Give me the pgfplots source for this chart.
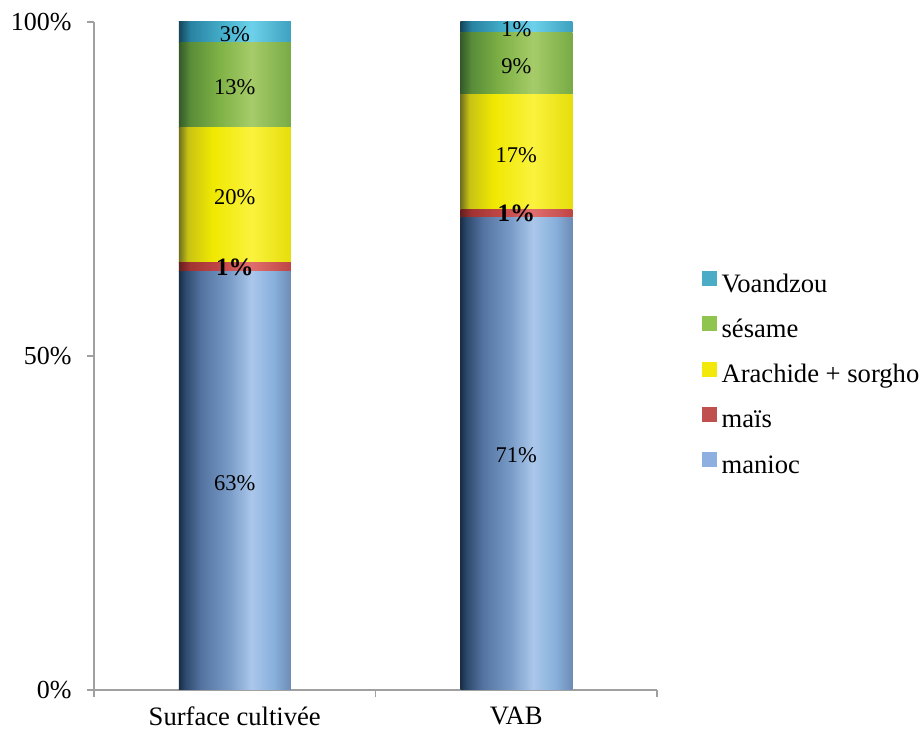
\documentclass[border=0pt]{standalone}
\usepackage{fontspec}
\setmainfont{Liberation Serif}
\usepackage{pgfplots}
\pgfplotsset{compat=1.18}
\newcommand{\fs}{\fontsize{25}{30}\selectfont}
\newcommand{\fy}{\fontsize{26}{31}\selectfont}
\newcommand{\fg}{\fontsize{26.6}{32}\selectfont}
\newcommand{\fl}{\fontsize{22.5}{27}\selectfont}
\definecolor{cVo}{RGB}{75,172,198}
\definecolor{cSe}{RGB}{143,197,78}
\definecolor{cAr}{RGB}{242,233,10}
\definecolor{cMa}{RGB}{192,80,77}
\definecolor{cMn}{RGB}{142,176,224}
\definecolor{axgray}{RGB}{160,160,160}
\pgfdeclarehorizontalshading{shMn}{100bp}{rgb(0bp)=(0.10,0.18,0.27); rgb(25bp)=(0.10,0.18,0.27); rgb(28bp)=(0.18,0.29,0.43); rgb(35bp)=(0.33,0.45,0.63); rgb(47.5bp)=(0.47,0.61,0.78); rgb(57.5bp)=(0.67,0.78,0.92); rgb(67.5bp)=(0.53,0.69,0.86); rgb(75bp)=(0.43,0.55,0.71); rgb(100bp)=(0.43,0.55,0.71)}
\pgfdeclarehorizontalshading{shMa}{100bp}{rgb(0bp)=(0.39,0.12,0.12); rgb(25bp)=(0.39,0.12,0.12); rgb(30bp)=(0.63,0.20,0.20); rgb(45bp)=(0.78,0.29,0.29); rgb(57.5bp)=(0.88,0.43,0.43); rgb(75bp)=(0.75,0.27,0.27); rgb(100bp)=(0.75,0.27,0.27)}
\pgfdeclarehorizontalshading{shAr}{100bp}{rgb(0bp)=(0.43,0.43,0.12); rgb(25bp)=(0.43,0.43,0.12); rgb(29bp)=(0.78,0.76,0.08); rgb(40bp)=(0.94,0.91,0.0); rgb(57.5bp)=(0.98,0.95,0.24); rgb(75bp)=(0.90,0.87,0.04); rgb(100bp)=(0.90,0.87,0.04)}
\pgfdeclarehorizontalshading{shSe}{100bp}{rgb(0bp)=(0.20,0.35,0.16); rgb(25bp)=(0.20,0.35,0.16); rgb(30bp)=(0.35,0.55,0.22); rgb(42.5bp)=(0.49,0.69,0.27); rgb(57.5bp)=(0.65,0.80,0.41); rgb(75bp)=(0.47,0.67,0.27); rgb(100bp)=(0.47,0.67,0.27)}
\pgfdeclarehorizontalshading{shVo}{100bp}{rgb(0bp)=(0.08,0.27,0.35); rgb(25bp)=(0.08,0.27,0.35); rgb(30bp)=(0.16,0.51,0.63); rgb(45bp)=(0.27,0.69,0.80); rgb(57.5bp)=(0.43,0.82,0.92); rgb(75bp)=(0.24,0.63,0.75); rgb(100bp)=(0.24,0.63,0.75)}
\pgfplotsset{
  common/.style={at={(94pt,43pt)}, anchor=south west,
    scale only axis, width=563pt, height=668pt,
    xmin=-0.5, xmax=1.5, ymin=0, ymax=100},
  barax/.style={common, ybar stacked, bar width=112pt},
}
\begin{document}
\begin{tikzpicture}[font=\fs]
\path[use as bounding box] (0,0) rectangle (921pt,733pt);
% bars of "Surface cultivée" + axes
\begin{axis}[
  barax,
  axis x line*=bottom, axis y line*=left,
  axis line style={draw=axgray, line width=1.6pt},
  tick style={draw=axgray, line width=1.6pt},
  tick align=outside, major tick length=7pt, minor tick length=7pt,
  xtick={0,1}, xticklabels={Surface cultivée, VAB},
  minor xtick={-0.5,0.5,1.5},
  major x tick style={draw=none},
  ytick={0,50,100}, yticklabels={0\%,50\%,100\%},
  yticklabel style={font=\fy, xshift=-12pt},
  xticklabel style={font=\fg, yshift=-6pt},
]
\addplot[draw=none, shade, shading=shMn] coordinates {(0,62.7)};
\addplot[draw=none, shade, shading=shMa] coordinates {(0,1.3)};
\addplot[draw=none, shade, shading=shAr] coordinates {(0,20.2)};
\addplot[draw=none, shade, shading=shSe] coordinates {(0,12.7)};
\addplot[draw=none, shade, shading=shVo] coordinates {(0,3.1)};
\end{axis}
% bars of "VAB"
\begin{axis}[barax, hide axis]
\addplot[draw=none, shade, shading=shMn] coordinates {(1,70.8)};
\addplot[draw=none, shade, shading=shMa] coordinates {(1,1.2)};
\addplot[draw=none, shade, shading=shAr] coordinates {(1,17.1)};
\addplot[draw=none, shade, shading=shSe] coordinates {(1,9.4)};
\addplot[draw=none, shade, shading=shVo] coordinates {(1,1.5)};
\end{axis}
% value labels and legend
\begin{axis}[common, hide axis,
  legend style={draw=none, fill=none, at={(1.0746,0.6303)}, anchor=north west,
    nodes={inner sep=0pt, text height=17pt, text depth=5pt, font=\fg},
    row sep=19pt, column sep=5pt},
  legend cell align=left,
]
\addlegendimage{legend image code/.code={\fill[cVo] (0pt,1pt) rectangle (14pt,15pt);}}
\addlegendentry{Voandzou}
\addlegendimage{legend image code/.code={\fill[cSe] (0pt,1pt) rectangle (14pt,15pt);}}
\addlegendentry{sésame}
\addlegendimage{legend image code/.code={\fill[cAr] (0pt,1pt) rectangle (14pt,15pt);}}
\addlegendentry{Arachide + sorgho}
\addlegendimage{legend image code/.code={\fill[cMa] (0pt,1pt) rectangle (14pt,15pt);}}
\addlegendentry{maïs}
\addlegendimage{legend image code/.code={\fill[cMn] (0pt,1pt) rectangle (14pt,15pt);}}
\addlegendentry{manioc}
\addplot[forget plot, draw=none, mark=none,
  point meta=explicit symbolic, nodes near coords,
  every node near coord/.style={anchor=center, font=\fl, inner sep=0pt, text=black}]
  coordinates {(0,98.2)[3\%] (0,90.3)[13\%] (0,73.8)[20\%] (0,31.0)[63\%]
               (1,99.0)[1\%] (1,93.4)[9\%] (1,80.1)[17\%] (1,35.2)[71\%]};
\addplot[forget plot, draw=none, mark=none,
  point meta=explicit symbolic, nodes near coords,
  every node near coord/.style={anchor=center, font=\fs\bfseries, inner sep=0pt, text=black}]
  coordinates {(0,63.2)[1\%] (1,71.3)[1\%]};
\end{axis}
\end{tikzpicture}
\end{document}
